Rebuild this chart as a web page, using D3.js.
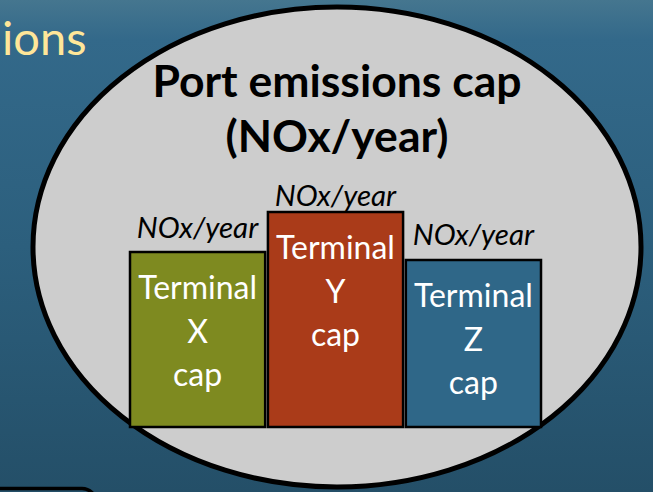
<!DOCTYPE html>
<html>
<head>
<meta charset="utf-8">
<title>Port emissions cap</title>
<script src="https://d3js.org/d3.v7.min.js"></script>
<style>
  body { margin: 0; padding: 0; overflow: hidden; }
  svg { display: block; font-family: Lato, "Open Sans", sans-serif; }
</style>
</head>
<body>
<div id="chart"></div>
<script>
// terminal caps (relative share of the port cap, arbitrary NOx/year units)
var terminals = ["X", "Y", "Z"];
var capValues = [175, 215, 167];
var capLabels = ["NOx/year", "NOx/year", "NOx/year"];
var barColors = ["#7e8a20", "#aa3b19", "#2f6788"];
var titleLines = ["Port emissions cap", "(NOx/year)"];

// gap between bar top and its label, as on the slide
var labelGap = [14, 6, 15];

var width = 653, height = 492;

var svg = d3.select("#chart").append("svg")
    .attr("width", width)
    .attr("height", height);

// slide background
var defs = svg.append("defs");
var grad = defs.append("linearGradient")
    .attr("id", "bg").attr("x1", 0).attr("y1", 0).attr("x2", 0).attr("y2", 1);
grad.append("stop").attr("offset", "0").attr("stop-color", "#45768f");
grad.append("stop").attr("offset", "0.08").attr("stop-color", "#33698a");
grad.append("stop").attr("offset", "0.5").attr("stop-color", "#2c5f7d");
grad.append("stop").attr("offset", "1").attr("stop-color", "#244f68");

svg.append("rect")
    .attr("width", width).attr("height", height)
    .attr("fill", "url(#bg)");

// leftover text from the slide
svg.append("text")
    .attr("x", 2).attr("y", 55)
    .attr("font-size", 47)
    .attr("fill", "#ffe699")
    .text("ions");

// box peeking in at the bottom left
svg.append("rect")
    .attr("x", -20).attr("y", 488.5)
    .attr("width", 116).attr("height", 40)
    .attr("rx", 14)
    .attr("fill", "#244f68")
    .attr("stroke", "#000").attr("stroke-width", 3.5);

// the port ellipse
svg.append("ellipse")
    .attr("cx", 337).attr("cy", 247)
    .attr("rx", 304).attr("ry", 240)
    .attr("fill", "#cdcdcd")
    .attr("stroke", "#000").attr("stroke-width", 5);

svg.append("g").selectAll("text")
    .data(titleLines)
    .enter().append("text")
    .attr("x", 337)
    .attr("y", function(d, i) { return 97 + i * 55; })
    .attr("text-anchor", "middle")
    .attr("font-size", 44.5)
    .attr("font-weight", "bold")
    .attr("fill", "#000")
    .text(function(d) { return d; });

// bars
var x = d3.scaleBand()
    .domain(terminals)
    .range([130, 541])
    .paddingInner(0.02);

var y = d3.scaleLinear()
    .domain([0, d3.max(capValues)])
    .range([427, 212]);

var data = terminals.map(function(t, i) {
    return { name: t, value: capValues[i], label: capLabels[i], color: barColors[i], gap: labelGap[i] };
});

var bars = svg.append("g").selectAll("g")
    .data(data)
    .enter().append("g");

bars.append("rect")
    .attr("x", function(d) { return x(d.name); })
    .attr("y", function(d) { return y(d.value); })
    .attr("width", x.bandwidth())
    .attr("height", function(d) { return y(0) - y(d.value); })
    .attr("fill", function(d) { return d.color; })
    .attr("stroke", "#000")
    .attr("stroke-width", 2.5);

bars.append("text")
    .attr("x", function(d) { return x(d.name) + x.bandwidth() / 2; })
    .attr("y", function(d) { return y(d.value) - d.gap; })
    .attr("text-anchor", "middle")
    .attr("font-size", 29.5)
    .attr("font-style", "italic")
    .attr("fill", "#000")
    .text(function(d) { return d.label; });

bars.each(function(d) {
    var lines = ["Terminal", d.name, "cap"];
    d3.select(this).selectAll("text.inner")
        .data(lines)
        .enter().append("text")
        .attr("class", "inner")
        .attr("x", x(d.name) + x.bandwidth() / 2)
        .attr("y", function(l, i) { return y(d.value) + 47 + i * 43.5; })
        .attr("text-anchor", "middle")
        .attr("font-size", 32)
        .attr("fill", "#fff")
        .text(function(l) { return l; });
});
</script>
</body>
</html>
